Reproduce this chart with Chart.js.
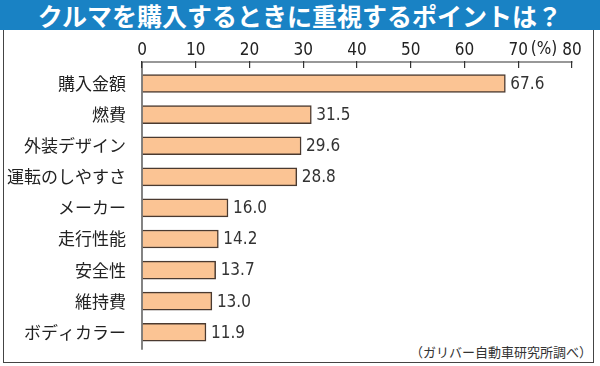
<!DOCTYPE html>
<html>
<head>
<meta charset="utf-8">
<script src="https://cdn.jsdelivr.net/npm/chart.js@4.4.0/dist/chart.umd.min.js"></script>
<style>
  body { margin: 0; background: #fff; }
  #wrap { position: relative; width: 600px; height: 366px; overflow: hidden; }
  #title { position: absolute; left: 0; top: 0; width: 600px; height: 30px; background: #1982c4;
           color: #fff; font: bold 25px "Noto Sans CJK JP"; text-align: center; line-height: 30px; }
  #frame { position: absolute; left: 3px; top: 30px; width: 589px; height: 332px;
           border: 1.5px solid #444; border-top: none; }
  #note { position: absolute; right: 8px; top: 342px; font: 13px "Noto Sans CJK JP"; color: #333; }
  canvas { position: absolute; left: 0; top: 0; }
</style>
</head>
<body>
<div id="wrap">
  <div id="title">クルマを購入するときに重視するポイントは？</div>
  <div id="frame"></div>
  <div id="note">（ガリバー自動車研究所調べ）</div>
  <canvas id="chart" width="600" height="366"></canvas>
</div>
<script>
var categories = ['購入金額', '燃費', '外装デザイン', '運転のしやすさ', 'メーカー', '走行性能', '安全性', '維持費', 'ボディカラー'];
var values = [67.6, 31.5, 29.6, 28.8, 16.0, 14.2, 13.7, 13.0, 11.9];
var unitLabel = '(%)';

var numFont = "'Liberation Sans Narrow', 'DejaVu Sans Condensed', sans-serif";
var jpFont = "'Noto Sans CJK JP', sans-serif";

// axis lines, unit label and value labels
var extras = {
  id: 'extras',
  afterDraw: function(chart) {
    var c = chart.ctx, a = chart.chartArea, x = chart.scales.x;
    var lineY = a.top - 6;
    c.save();
    c.strokeStyle = '#333';
    c.lineWidth = 1.2;
    c.beginPath();
    c.moveTo(a.left, lineY);
    c.lineTo(a.right + 0.5, lineY);
    c.moveTo(a.left, lineY);
    c.lineTo(a.left, a.bottom + 2);
    c.stroke();

    c.fillStyle = '#222';
    c.font = '17px ' + numFont;
    c.textAlign = 'center';
    c.textBaseline = 'middle';
    c.fillText(unitLabel, x.getPixelForValue(74.8), 50);

    c.fillStyle = '#333';
    c.textAlign = 'left';
    chart.getDatasetMeta(0).data.forEach(function(bar, i) {
      c.fillText(values[i].toFixed(1), bar.x + 5, bar.y + 1);
    });
    c.restore();
  }
};

var ctx = document.getElementById('chart').getContext('2d');
var myChart = new Chart(ctx, {
  type: 'bar',
  data: {
    labels: categories,
    datasets: [{
      data: values,
      backgroundColor: '#fbc494',
      borderColor: '#4a3a30',
      borderWidth: 1.5,
      barThickness: 18
    }]
  },
  options: {
    indexAxis: 'y',
    responsive: false,
    animation: false,
    layout: { padding: { top: 0, left: 0, right: 28, bottom: 16 } },
    plugins: {
      legend: { display: false },
      tooltip: { enabled: false }
    },
    scales: {
      x: {
        position: 'top',
        min: 0,
        max: 80,
        border: { display: false },
        grid: { drawOnChartArea: false, tickLength: 7, color: '#333', lineWidth: 1.2 },
        ticks: { stepSize: 10, color: '#222', padding: 0, font: { family: numFont, size: 17 } },
        afterFit: function(s) { s.height = 68; }
      },
      y: {
        border: { display: false },
        grid: { display: false },
        ticks: { color: '#222', padding: 8, font: { family: jpFont, size: 17 } },
        afterFit: function(s) { s.width = 142; }
      }
    }
  },
  plugins: [extras]
});
</script>
</body>
</html>
